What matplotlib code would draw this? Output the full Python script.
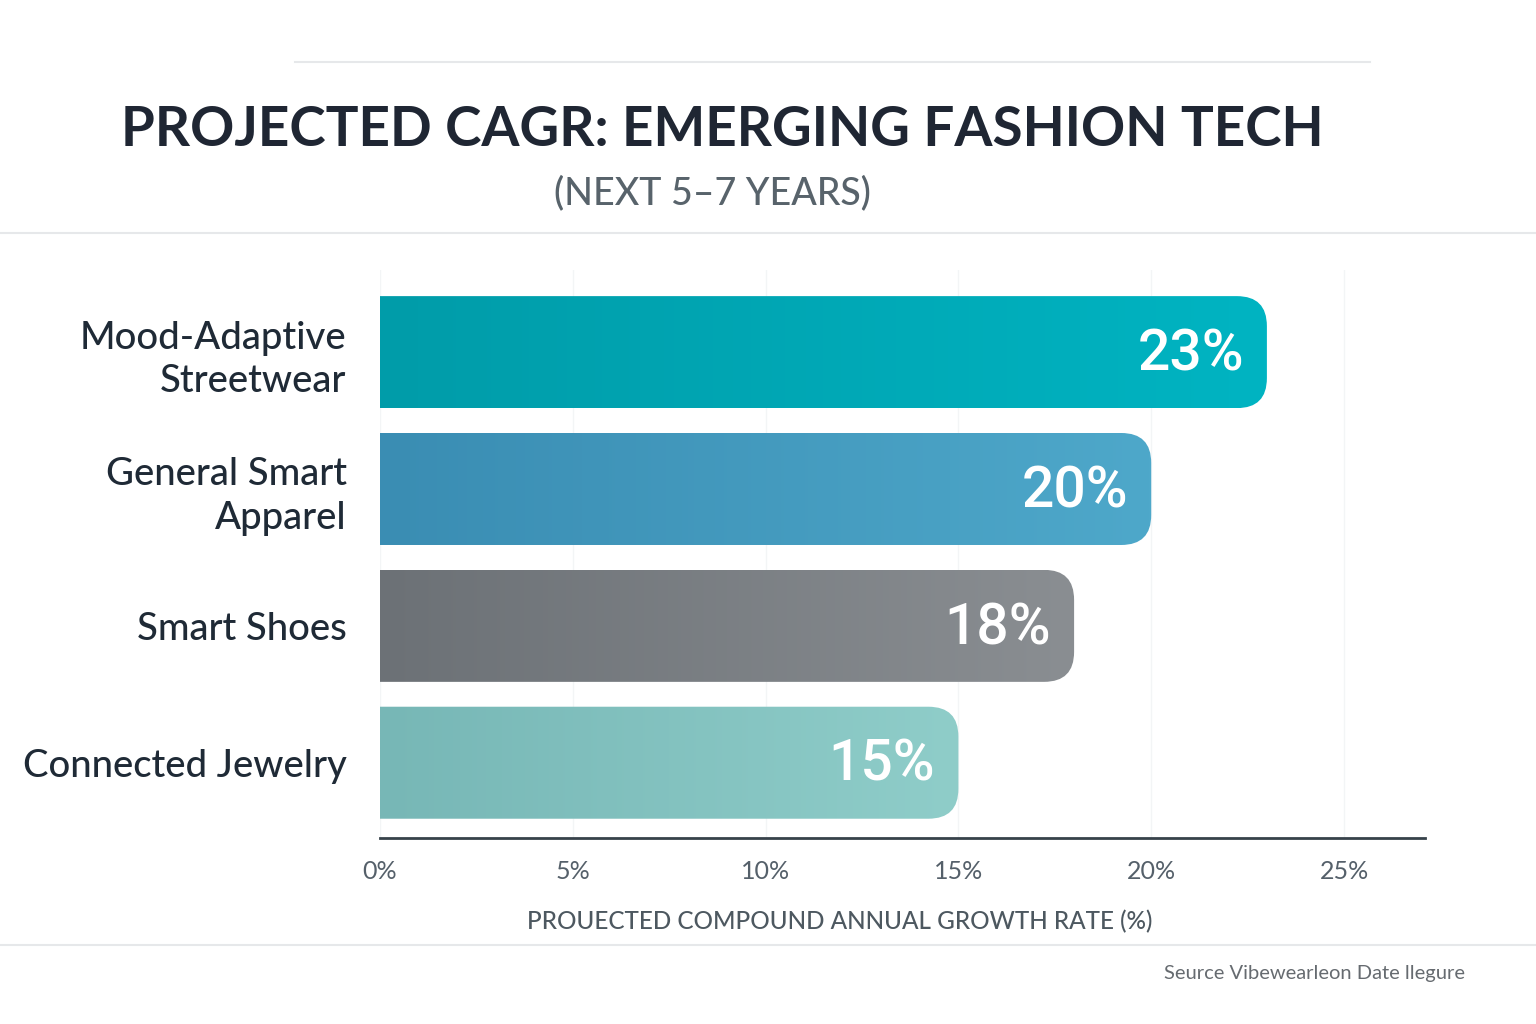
import matplotlib.pyplot as plt
import numpy as np
from matplotlib.colors import LinearSegmentedColormap
from matplotlib.patches import FancyBboxPatch

# data
categories = ["Mood-Adaptive\nStreetwear", "General Smart\nApparel", "Smart Shoes", "Connected Jewelry"]
cagr = [23, 20, 18, 15]
tick_values = [0, 5, 10, 15, 20, 25]
tick_labels = ["0%", "5%", "10%", "15%", "20%", "25%"]

# left / right colour of each bar's gradient
bar_colors = [
    ("#009ca9", "#00b4c2"),
    ("#3a8db3", "#4ea8ca"),
    ("#6c7176", "#8a8e92"),
    ("#77b7b6", "#8fcdc9"),
]

W, H, DPI = 15.36, 10.24, 100
fig = plt.figure(figsize=(W, H), dpi=DPI)
fig.patch.set_facecolor("white")

ax_l, ax_r, ax_b, ax_t = 380, 1425, 838, 270
ax = fig.add_axes([ax_l / 1536, 1 - ax_b / 1024, (ax_r - ax_l) / 1536, (ax_b - ax_t) / 1024])
xmax = 27.1
ax.set_xlim(0, xmax)
ax.set_ylim(3.55, -0.6)

# pixel scale so corners stay round
px_x = (ax_r - ax_l) / xmax
px_y = (ax_b - ax_t) / (3.55 + 0.6)
bar_h = 112 / px_y
radius_px = 30

for i, (val, (c0, c1)) in enumerate(zip(cagr, bar_colors)):
    y0 = i - bar_h / 2
    patch = FancyBboxPatch(
        (-2, y0), val + 2, bar_h,
        boxstyle=f"round,pad=0,rounding_size={radius_px / px_x}",
        mutation_aspect=px_x / px_y,
        facecolor="none", edgecolor="none",
    )
    ax.add_patch(patch)
    cmap = LinearSegmentedColormap.from_list(f"g{i}", [c0, c1])
    grad = np.linspace(0, 1, 256).reshape(1, -1)
    im = ax.imshow(grad, cmap=cmap, extent=(0, val, y0 + bar_h, y0), aspect="auto", zorder=2)
    im.set_clip_path(patch)
    ax.text(val - 0.6, i + 0.02, f"{val}%", ha="right", va="center", color="white",
            fontsize=41, family="Roboto", fontweight="medium", zorder=3)

ax.set_xticks(tick_values, tick_labels)
ax.set_yticks(range(len(categories)), categories)
ax.tick_params(axis="x", length=0, pad=16, labelsize=18, labelcolor="#55606a")
ax.tick_params(axis="y", length=0, pad=24, labelsize=27.5, labelcolor="#1f2a36")
for lbl in ax.get_yticklabels():
    lbl.set_multialignment("right")
    lbl.set_linespacing(1.3)
    lbl.set_family("Lato")
    lbl.set_fontweight("medium")
for lbl in ax.get_xticklabels():
    lbl.set_family("Lato")

ax.grid(axis="x", color="#f3f5f6", lw=1, zorder=0)
ax.set_axisbelow(True)
for s in ["top", "right", "left"]:
    ax.spines[s].set_visible(False)
ax.spines["bottom"].set_color("#37424a")
ax.spines["bottom"].set_linewidth(2)

ax.set_xlabel("PROUECTED COMPOUND ANNUAL GROWTH RATE (%)", fontsize=17.5, color="#4d5860",
              family="Lato", fontweight="medium")
ax.xaxis.set_label_coords((840 - ax_l) / (ax_r - ax_l), -(922 - ax_b) / (ax_b - ax_t))
ax.xaxis.label.set_va("center")

# titles
fig.text(722 / 1536, 1 - 130 / 1024, "PROJECTED CAGR: EMERGING FASHION TECH", ha="center", va="center",
         fontsize=39.5, fontweight="bold", color="#1f2633", family="Lato")
fig.text(712 / 1536, 1 - 193 / 1024, "(NEXT 5\u20137 YEARS)", ha="center", va="center",
         fontsize=27, color="#58636b", family="Lato", fontweight="medium")

# divider lines
fig.add_artist(plt.Line2D([295 / 1536, 1370 / 1536], [1 - 62 / 1024] * 2, color="#e6e8ea", lw=1.5))
fig.add_artist(plt.Line2D([0, 1], [1 - 233 / 1024] * 2, color="#e6e8ea", lw=1.5))
fig.add_artist(plt.Line2D([0, 1], [1 - 945 / 1024] * 2, color="#e6e8ea", lw=1.5))

fig.text(1465 / 1536, 1 - 974 / 1024, "Seurce Vibewearleon Date llegure", ha="right", va="center",
         fontsize=14.5, color="#666b70", family="Lato")

fig.savefig("out.png", dpi=DPI)
